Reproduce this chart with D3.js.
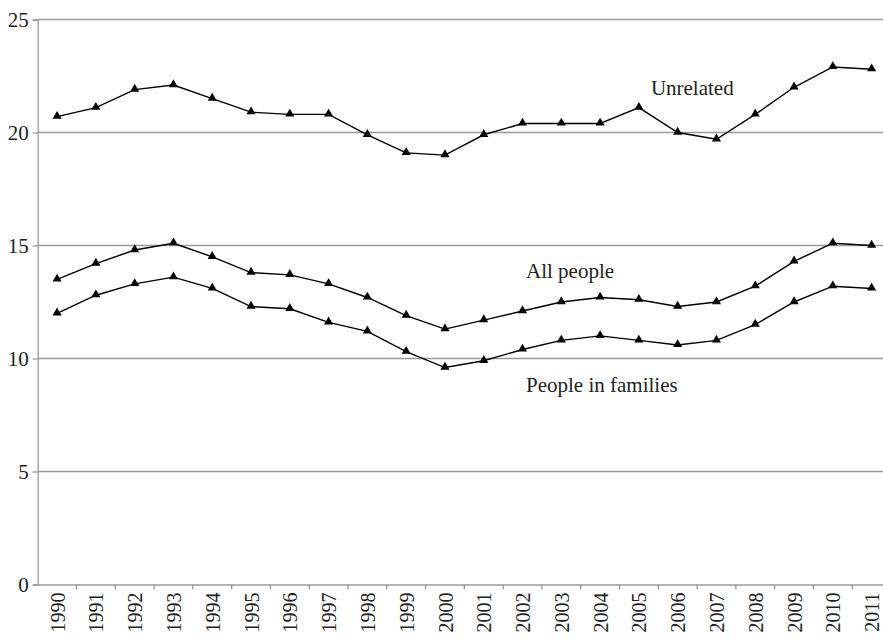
<!DOCTYPE html>
<html><head><meta charset="utf-8">
<script src="https://cdn.jsdelivr.net/npm/d3@7"></script>
<style>body{margin:0;background:#fff;}svg{display:block;}</style>
</head><body>
<svg id="chart" width="883" height="640"></svg>
<script>
const years = ["1990","1991","1992","1993","1994","1995","1996","1997","1998","1999","2000","2001","2002","2003","2004","2005","2006","2007","2008","2009","2010","2011"];
const unrelated = [20.7,21.1,21.9,22.1,21.5,20.9,20.8,20.8,19.9,19.1,19.0,19.9,20.4,20.4,20.4,21.1,20.0,19.7,20.8,22.0,22.9,22.8];
const allPeople = [13.5,14.2,14.8,15.1,14.5,13.8,13.7,13.3,12.7,11.9,11.3,11.7,12.1,12.5,12.7,12.6,12.3,12.5,13.2,14.3,15.1,15.0];
const inFamilies = [12.0,12.8,13.3,13.6,13.1,12.3,12.2,11.6,11.2,10.3,9.6,9.9,10.4,10.8,11.0,10.8,10.6,10.8,11.5,12.5,13.2,13.1];
const yTicks = [0,5,10,15,20,25];
const labelNames = ["Unrelated","All people","People in families"];
const labelYears = ["2005","2002","2002"];
const labelValues = [21.66,13.56,8.5];

const svg = d3.select("#chart");
const mLeft = 37.7, mRight = 891, mTop = 19.5, mBottom = 584.5;
const x = d3.scaleBand().domain(years).range([mLeft, mRight]).padding(0);
const y = d3.scaleLinear().domain([0,25]).range([mBottom, mTop]);
const font = "'Liberation Serif', 'Times New Roman', serif";
const labelDx = [12, 3.5, 3.5];

// gridlines
svg.append("g").selectAll("line").data(yTicks.filter(d=>d>0)).join("line")
  .attr("x1", mLeft).attr("x2", mRight)
  .attr("y1", d=>y(d)).attr("y2", d=>y(d))
  .attr("stroke", "#9a9a9a").attr("stroke-width", 1.3);

// y axis
const yAxis = svg.append("g").attr("transform", `translate(${mLeft},0)`)
  .call(d3.axisLeft(y).tickValues(yTicks).tickSize(5).tickPadding(4).tickFormat(d3.format("d")));
yAxis.select(".domain").attr("stroke", "#9a9a9a").attr("stroke-width", 1.3);
yAxis.selectAll(".tick line").attr("stroke", "#9a9a9a").attr("stroke-width", 1.3);
yAxis.selectAll("text").attr("font-family", font).attr("font-size", 21).attr("fill", "#222")
  .attr("dy", "0.33em");

// x axis
const xAxis = svg.append("g").attr("transform", `translate(0,${mBottom})`)
  .call(d3.axisBottom(x).tickSize(0).tickFormat(d=>d));
xAxis.select(".domain").attr("stroke", "#9a9a9a").attr("stroke-width", 1.3);
xAxis.selectAll(".tick line").remove();
xAxis.selectAll(".tick text")
  .attr("font-family", font).attr("font-size", 20).attr("fill", "#222")
  .attr("transform", "rotate(-90)")
  .attr("text-anchor", "end")
  .attr("x", -8).attr("y", 1).attr("dy", "0.33em");
// boundary ticks between categories
svg.append("g").selectAll("line").data(years.slice(1)).join("line")
  .attr("x1", d=>x(d)).attr("x2", d=>x(d))
  .attr("y1", mBottom).attr("y2", mBottom+5)
  .attr("stroke", "#9a9a9a").attr("stroke-width", 1.3);

const cx = d => x(d) + x.bandwidth()/2;
const line = d3.line().x((d,i)=>cx(years[i])).y(d=>y(d));
const tri = d3.symbol().type(d3.symbolTriangle).size(36);

[unrelated, allPeople, inFamilies].forEach(vals => {
  svg.append("path").datum(vals).attr("d", line)
    .attr("fill", "none").attr("stroke", "#000").attr("stroke-width", 1.4);
  svg.append("g").selectAll("path").data(vals).join("path")
    .attr("d", tri)
    .attr("transform", (d,i)=>`translate(${cx(years[i])},${y(d)-0.5})`)
    .attr("fill", "#000");
});

svg.append("g").selectAll("text").data(labelNames).join("text")
  .attr("x", (d,i)=>cx(labelYears[i])+labelDx[i])
  .attr("y", (d,i)=>y(labelValues[i]))
  .attr("font-family", font).attr("font-size", 21).attr("fill", "#222")
  .text(d=>d);
</script>
</body></html>
